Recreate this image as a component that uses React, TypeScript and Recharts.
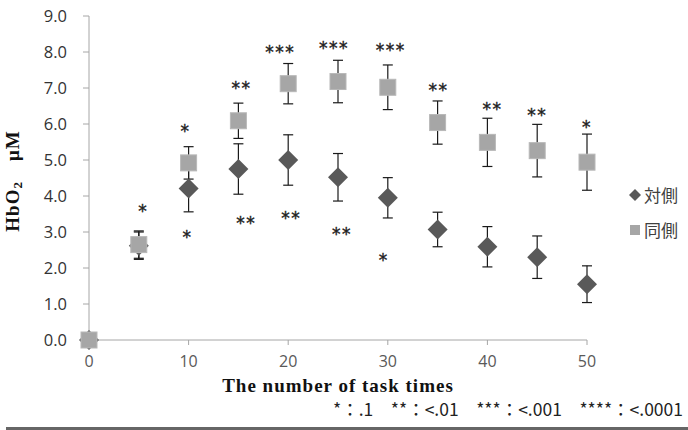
import React from "react";
import { ScatterChart, Scatter, XAxis, YAxis, ErrorBar, Legend, Label } from "recharts";

// task count on the x axis
const taskTimes = [0, 5, 10, 15, 20, 25, 30, 35, 40, 45, 50];

// 対側 (contralateral) HbO2, mean and SD
const contraMean = [0, 2.62, 4.21, 4.75, 5.0, 4.52, 3.95, 3.07, 2.59, 2.3, 1.55];
const contraSd = [0, 0.38, 0.65, 0.7, 0.7, 0.66, 0.56, 0.48, 0.56, 0.59, 0.51];

// 同側 (ipsilateral) HbO2, mean and SD
const ipsiMean = [0, 2.65, 4.92, 6.09, 7.12, 7.18, 7.02, 6.04, 5.49, 5.26, 4.94];
const ipsiSd = [0, 0.38, 0.45, 0.49, 0.56, 0.59, 0.62, 0.6, 0.67, 0.73, 0.78];

// significance marks
const upperX = [5.45, 9.7, 15.3, 19.2, 24.6, 30.3, 35.1, 40.5, 45, 50];
const upperY = [3.67, 5.89, 7.08, 8.08, 8.19, 8.15, 7.03, 6.5, 6.33, 6.0];
const upperMarks = ["*", "*", "**", "***", "***", "***", "**", "**", "**", "*"];
const lowerX = [9.9, 15.8, 20.3, 25.4, 29.6];
const lowerY = [2.94, 3.34, 3.47, 3.03, 2.3];
const lowerMarks = ["*", "**", "**", "**", "*"];

const xTicks = [0, 10, 20, 30, 40, 50];
const yTicks = [0, 1, 2, 3, 4, 5, 6, 7, 8, 9];

const seriesNames = ["対側", "同側"];
const seriesColors = ["#595959", "#a6a6a6"];

const contraData = taskTimes.map((x, i) => ({ x, y: contraMean[i], err: contraSd[i] }));
const ipsiData = taskTimes.map((x, i) => ({ x, y: ipsiMean[i], err: ipsiSd[i] }));
const markData = [
  ...upperX.map((x, i) => ({ x, y: upperY[i], t: upperMarks[i] })),
  ...lowerX.map((x, i) => ({ x, y: lowerY[i], t: lowerMarks[i] })),
];

const Diamond = (props: any) => {
  const { cx, cy } = props;
  const r = 10;
  return (
    <polygon
      points={`${cx},${cy - r} ${cx + r},${cy} ${cx},${cy + r} ${cx - r},${cy}`}
      fill={seriesColors[0]}
    />
  );
};

const Square = (props: any) => {
  const { cx, cy } = props;
  return <rect x={cx - 8} y={cy - 8} width={16} height={16} fill={seriesColors[1]} stroke="#b8b8b8" strokeWidth={1} />;
};

const Stars = (props: any) => {
  const { cx, cy, payload } = props;
  return (
    <text
      x={cx}
      y={cy + 9}
      textAnchor="middle"
      fontFamily="DejaVu Sans"
      fontSize={17}
      letterSpacing={1.5}
      fill="#222"
      stroke="#222"
      strokeWidth={0.4}
    >
      {payload.t}
    </text>
  );
};

const renderLegend = () => (
  <div style={{ fontFamily: "Noto Sans CJK JP", fontSize: 17, color: "#404040", lineHeight: "35px" }}>
    {seriesNames.map((name, i) => (
      <div key={name} style={{ display: "flex", alignItems: "center" }}>
        <svg width={12} height={12} style={{ marginRight: 3 }}>
          {i === 0 ? (
            <polygon points="6,0 12,6 6,12 0,6" fill={seriesColors[0]} />
          ) : (
            <rect x={1} y={1} width={10} height={10} fill={seriesColors[1]} />
          )}
        </svg>
        <span>{name}</span>
      </div>
    ))}
  </div>
);

export default function App() {
  return (
    <div style={{ position: "fixed", left: 0, top: 0, width: 688, height: 430, background: "#fff" }}>
      <ScatterChart width={688} height={430} margin={{ top: 16, right: 101, bottom: 60, left: 29 }}>
        <XAxis
          type="number"
          dataKey="x"
          domain={[0, 50]}
          ticks={xTicks}
          height={30}
          axisLine={{ stroke: "#a6a6a6" }}
          tickLine={{ stroke: "#a6a6a6" }}
          tickSize={5}
          tickMargin={11}
          tick={{ fill: "#595959", fontSize: 16, fontFamily: "Open Sans" }}
        >
          <Label
            value="The number of task times"
            position="bottom"
            offset={9}
            style={{ fontFamily: "Liberation Serif", fontWeight: "bold", fontSize: 19, letterSpacing: 1, fill: "#111" }}
          />
        </XAxis>
        <YAxis
          type="number"
          dataKey="y"
          domain={[0, 9]}
          ticks={yTicks}
          width={60}
          axisLine={{ stroke: "#a6a6a6" }}
          tickLine={{ stroke: "#a6a6a6" }}
          tickSize={6}
          tickMargin={16}
          tickFormatter={(v: number) => v.toFixed(1)}
          tick={{ fill: "#333", fontSize: 16.5, fontFamily: "Open Sans" }}
        />
        <Legend
          layout="horizontal"
          verticalAlign="middle"
          align="center"
          content={renderLegend}
          wrapperStyle={{ top: 177, left: 629, width: 60 }}
        />
        <Scatter name={seriesNames[0]} data={contraData} shape={Diamond} isAnimationActive={false}>
          <ErrorBar dataKey="err" direction="y" width={5} stroke="#1a1a1a" strokeWidth={1.2} />
        </Scatter>
        <Scatter name={seriesNames[1]} data={ipsiData} shape={Square} isAnimationActive={false}>
          <ErrorBar dataKey="err" direction="y" width={5} stroke="#1a1a1a" strokeWidth={1.2} />
        </Scatter>
        <Scatter name="marks" data={markData} shape={Stars} legendType="none" isAnimationActive={false} />
      </ScatterChart>
      <svg width={688} height={430} style={{ position: "absolute", left: 0, top: 0, pointerEvents: "none" }}>
        <text
          transform="translate(19,181) rotate(-90)"
          textAnchor="middle"
          fontFamily="Liberation Serif"
          fontWeight="bold"
          fontSize={19}
          letterSpacing={1}
          fill="#111"
        >
          HbO
          <tspan fontSize={13} dy={3}>2</tspan>
          <tspan dy={-3} dx={20}>μM</tspan>
        </text>
        <text x={683} y={416} textAnchor="end" fontFamily="Noto Sans CJK JP" fontSize={17.5} fill="#222">
          *：.1　**：&lt;.01　***：&lt;.001　****：&lt;.0001
        </text>
        <rect x={6} y={427} width={682} height={3} fill="#666" />
      </svg>
    </div>
  );
}
